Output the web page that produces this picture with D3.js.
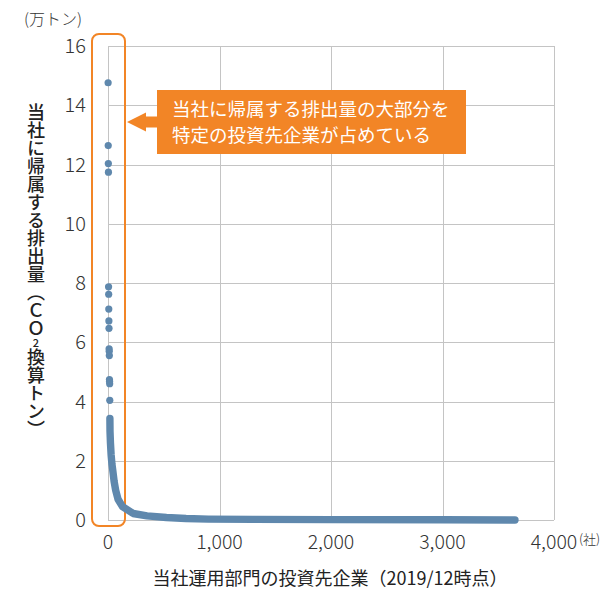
<!DOCTYPE html>
<html>
<head>
<meta charset="utf-8">
<script src="https://cdn.jsdelivr.net/npm/d3@7"></script>
<style>
  body { margin: 0; background: #fff; }
  text { font-family: "Noto Sans CJK JP", "Noto Sans", sans-serif; }
</style>
</head>
<body>
<div id="chart"></div>
<script>
// largest emitters, read one by one (ranks 1..16), 万トン
const topValues = [14.76, 12.64, 12.03, 11.74, 7.87, 7.62, 7.12, 6.72, 6.47,
  5.78, 5.70, 5.55, 4.74, 4.68, 4.60, 4.04];
// the dense tail: company rank -> 万トン
const tailRanks = [17, 18, 20, 22, 28, 35, 42, 55, 69, 90, 130, 225, 350, 524,
  700, 900, 1300, 2000, 3000, 3650];
const tailValues = [3.43, 3.0, 2.8, 2.6, 2.2, 1.9, 1.7, 1.3, 1.0, 0.7, 0.45,
  0.22, 0.14, 0.085, 0.05, 0.03, 0.02, 0.012, 0.006, 0.002];

const xTicks = [0, 1000, 2000, 3000, 4000];
const yTicks = [0, 2, 4, 6, 8, 10, 12, 14, 16];

const calloutLines = ["当社に帰属する排出量の大部分を", "特定の投資先企業が占めている"];

const width = 611, height = 591;
const blue = "#5f88ad", orange = "#f28526", grid = "#c4c4c4", ink = "#333";

const svg = d3.select("#chart").append("svg")
  .attr("width", width)
  .attr("height", height);

const x = d3.scaleLinear().domain([0, 4000]).range([108, 554]);
const y = d3.scaleLinear().domain([0, 16]).range([520, 46]);

// grid
svg.append("g").selectAll("line")
  .data(xTicks)
  .join("line")
  .attr("x1", d => Math.round(x(d)) + 0.5).attr("x2", d => Math.round(x(d)) + 0.5)
  .attr("y1", y(16)).attr("y2", y(0))
  .attr("stroke", grid);

svg.append("g").selectAll("line")
  .data(yTicks)
  .join("line")
  .attr("x1", x(0)).attr("x2", x(4000))
  .attr("y1", d => Math.round(y(d)) + 0.5).attr("y2", d => Math.round(y(d)) + 0.5)
  .attr("stroke", grid);

// tick labels
svg.append("g").selectAll("text")
  .data(yTicks)
  .join("text")
  .attr("x", 86)
  .attr("y", d => y(d) + 7)
  .attr("text-anchor", "end")
  .attr("font-size", 20)
  .attr("font-weight", 300)
  .attr("fill", ink)
  .text(d => d);

svg.append("g").selectAll("text")
  .data(xTicks)
  .join("text")
  .attr("x", d => x(d))
  .attr("y", 549)
  .attr("text-anchor", "middle")
  .attr("font-size", 19.5)
  .attr("font-weight", 300)
  .attr("fill", ink)
  .text(d => d3.format(",")(d));

svg.append("text")
  .attr("x", 579).attr("y", 544)
  .attr("font-size", 13)
  .attr("font-weight", 300)
  .attr("fill", ink)
  .text("(社)");

svg.append("text")
  .attr("x", 24).attr("y", 25)
  .attr("font-size", 16)
  .attr("font-weight", 300)
  .attr("fill", ink)
  .text("(万トン)");

// axis titles
svg.append("text")
  .attr("x", 330).attr("y", 585)
  .attr("text-anchor", "middle")
  .attr("font-size", 18)
  .attr("fill", "#222")
  .text("当社運用部門の投資先企業（2019/12時点）");

const yTitle = svg.append("text")
  .attr("x", 36).attr("y", 103)
  .attr("font-size", 18)
  .attr("font-weight", 500)
  .attr("fill", "#222")
  .style("writing-mode", "vertical-rl");
yTitle.append("tspan").text("当社に帰属する排出量（ＣＯ");
yTitle.append("tspan")
  .attr("font-size", 11)
  .style("text-orientation", "upright")
  .text("2");
yTitle.append("tspan").text("換算トン）");

// highlight frame round the top emitters
svg.append("rect")
  .attr("x", 92).attr("y", 34)
  .attr("width", 33).attr("height", 492)
  .attr("rx", 7)
  .attr("fill", "none")
  .attr("stroke", orange)
  .attr("stroke-width", 2);

// tail of the distribution
const tail = tailRanks.map((r, i) => [r, tailValues[i]]);
svg.append("path")
  .datum(tail)
  .attr("d", d3.line().x(d => x(d[0])).y(d => y(d[1])))
  .attr("fill", "none")
  .attr("stroke", blue)
  .attr("stroke-width", 7.4)
  .attr("stroke-linecap", "round")
  .attr("stroke-linejoin", "round");

svg.append("g").selectAll("circle")
  .data(topValues)
  .join("circle")
  .attr("cx", (d, i) => x(i + 1))
  .attr("cy", d => y(d))
  .attr("r", 3.6)
  .attr("fill", blue);

// callout
svg.append("polygon")
  .attr("points", "127,122 146,112.5 146,116.5 158,116.5 158,127.5 146,127.5 146,131.5")
  .attr("fill", orange);

svg.append("rect")
  .attr("x", 157).attr("y", 90)
  .attr("width", 309).attr("height", 64)
  .attr("fill", orange);

svg.append("g").selectAll("text")
  .data(calloutLines)
  .join("text")
  .attr("x", 172)
  .attr("y", (d, i) => 116 + i * 26)
  .attr("font-size", 18.5)
  .attr("fill", "#fff")
  .text(d => d);
</script>
</body>
</html>
